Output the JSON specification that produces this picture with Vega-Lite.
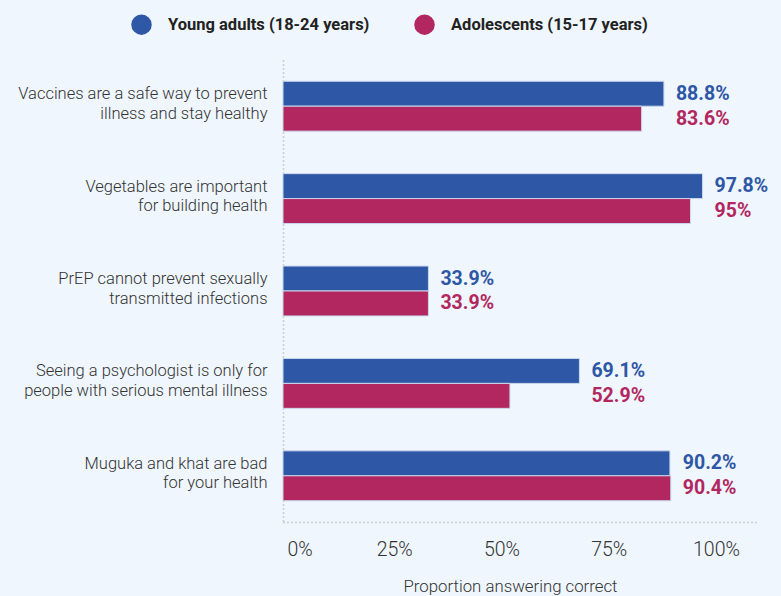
{
  "$schema": "https://vega.github.io/schema/vega-lite/v6.json",
  "autosize": {"type": "none"},
  "padding": {"left": 283, "top": 60, "right": 24, "bottom": 74},
  "width": 474,
  "height": 462,
  "background": "#EFF6FD",
  "config": {
    "view": {"stroke": null},
    "font": "Roboto"
  },
  "data": {
    "values": [
      {"question": "Vaccines are a safe way to prevent|illness and stay healthy", "group": "Young adults (18-24 years)", "value": 0.888},
      {"question": "Vaccines are a safe way to prevent|illness and stay healthy", "group": "Adolescents (15-17 years)", "value": 0.836},
      {"question": "Vegetables are important|for building health", "group": "Young adults (18-24 years)", "value": 0.978},
      {"question": "Vegetables are important|for building health", "group": "Adolescents (15-17 years)", "value": 0.95},
      {"question": "PrEP cannot prevent sexually|transmitted infections", "group": "Young adults (18-24 years)", "value": 0.339},
      {"question": "PrEP cannot prevent sexually|transmitted infections", "group": "Adolescents (15-17 years)", "value": 0.339},
      {"question": "Seeing a psychologist is only for|people with serious mental illness", "group": "Young adults (18-24 years)", "value": 0.691},
      {"question": "Seeing a psychologist is only for|people with serious mental illness", "group": "Adolescents (15-17 years)", "value": 0.529},
      {"question": "Muguka and khat are bad|for your health", "group": "Young adults (18-24 years)", "value": 0.902},
      {"question": "Muguka and khat are bad|for your health", "group": "Adolescents (15-17 years)", "value": 0.904}
    ]
  },
  "encoding": {
    "y": {
      "field": "question",
      "type": "nominal",
      "sort": null,
      "scale": {"paddingInner": 0.46, "paddingOuter": 0.23},
      "axis": {
        "title": null,
        "labelExpr": "split(datum.label, '|')",
        "labelFontSize": 16.5,
        "labelFontWeight": 300,
        "labelColor": "#333333",
        "labelLineHeight": 19.5,
        "labelPadding": 16,
        "labelOffset": -12,
        "labelLimit": 300,
        "ticks": false,
        "domainDash": [1, 3],
        "domainColor": "#a8a8a8",
        "domainWidth": 1.5
      }
    },
    "yOffset": {
      "field": "group",
      "type": "nominal",
      "sort": ["Young adults (18-24 years)", "Adolescents (15-17 years)"],
      "scale": {"paddingInner": 0, "paddingOuter": 0}
    },
    "color": {
      "field": "group",
      "type": "nominal",
      "sort": ["Young adults (18-24 years)", "Adolescents (15-17 years)"],
      "scale": {"domain": ["Young adults (18-24 years)", "Adolescents (15-17 years)"], "range": ["#2E57A5", "#B2275F"]},
      "legend": {
        "title": null,
        "orient": "none",
        "legendX": -152,
        "legendY": -46,
        "direction": "horizontal",
        "symbolType": "circle",
        "symbolSize": 420,
        "symbolStrokeWidth": 0,
        "symbolOpacity": 1,
        "labelFontSize": 16.5,
        "labelFontWeight": "bold",
        "labelColor": "#222222",
        "labelOffset": 16,
        "columnPadding": 44,
        "labelLimit": 300
      }
    }
  },
  "layer": [
    {
      "mark": {"type": "bar", "stroke": "#c9d8ee", "strokeWidth": 1},
      "encoding": {
        "x": {
          "field": "value",
          "type": "quantitative",
          "scale": {"domain": [0, 1.105], "nice": false},
          "axis": {
            "values": [0, 0.25, 0.5, 0.75, 1],
            "format": ".0%",
            "title": "Proportion answering correct",
            "titleFontSize": 16.8,
            "titleFontWeight": 300,
            "titleColor": "#333333",
            "titlePadding": 20,
            "titleX": 227,
            "labelFontSize": 19.5,
            "labelFontWeight": 300,
            "labelColor": "#333333",
            "labelPadding": 18,
            "labelFlush": true,
            "labelOffset": 4,
            "ticks": false,
            "grid": false,
            "domainDash": [1, 3],
            "domainColor": "#a8a8a8",
            "domainWidth": 1.5
          }
        }
      }
    },
    {
      "transform": [
        {"joinaggregate": [{"op": "max", "field": "value", "as": "maxval"}], "groupby": ["question"]}
      ],
      "mark": {"type": "text", "align": "left", "baseline": "middle", "dx": 12, "fontSize": 19.5, "fontWeight": "bold"},
      "encoding": {
        "x": {"field": "maxval", "type": "quantitative"},
        "text": {"field": "value", "type": "quantitative", "format": ".1~%"}
      }
    }
  ]
}
